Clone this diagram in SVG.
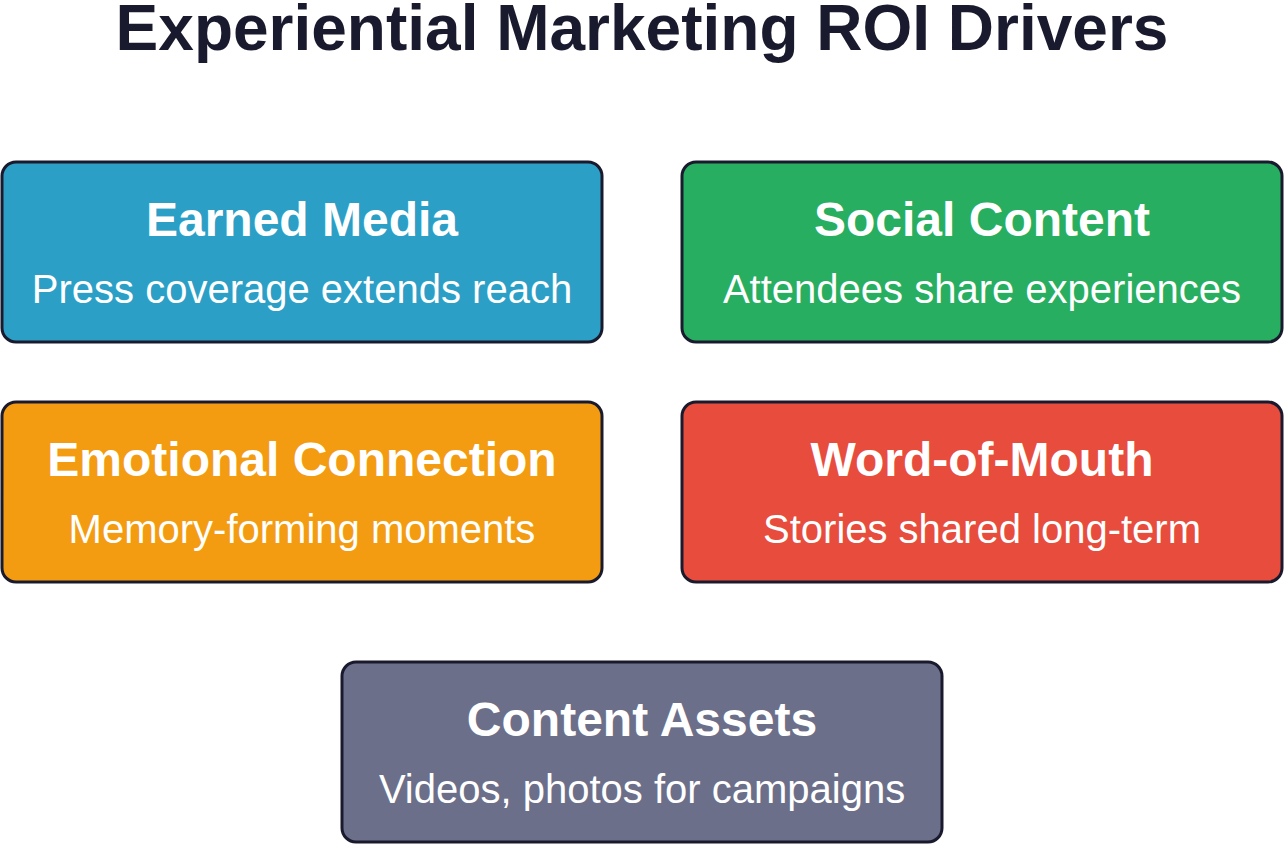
<svg xmlns="http://www.w3.org/2000/svg" width="1284" height="844" viewBox="0 0 1284 844">
<style>
.box{stroke:#1a1a2e;stroke-width:3}
.t{font-family:"Liberation Sans",Arial,sans-serif;font-weight:bold;font-size:48px;fill:#ffffff;text-anchor:middle}
.s{font-family:"Liberation Sans",Arial,sans-serif;font-size:40px;fill:#ffffff;text-anchor:middle}
.h{font-family:"Liberation Sans",Arial,sans-serif;font-weight:bold;font-size:64px;fill:#1a1a2e;text-anchor:middle}
</style>
<rect width="1284" height="844" fill="#ffffff"/>
<text class="h" x="642" y="50">Experiential Marketing ROI Drivers</text>
<g id="connectors"></g>
<g id="earned-media">
<rect class="box" x="2" y="162" width="600" height="180" rx="14" fill="#2b9fc6"/>
<text class="t" x="302" y="236">Earned Media</text>
<text class="s" x="302" y="303">Press coverage extends reach</text>
</g>
<g id="social-content">
<rect class="box" x="682" y="162" width="600" height="180" rx="14" fill="#27ae60"/>
<text class="t" x="982" y="236">Social Content</text>
<text class="s" x="982" y="303">Attendees share experiences</text>
</g>
<g id="emotional-connection">
<rect class="box" x="2" y="402" width="600" height="180" rx="14" fill="#f39c12"/>
<text class="t" x="302" y="476">Emotional Connection</text>
<text class="s" x="302" y="543">Memory-forming moments</text>
</g>
<g id="word-of-mouth">
<rect class="box" x="682" y="402" width="600" height="180" rx="14" fill="#e74c3c"/>
<text class="t" x="982" y="476">Word-of-Mouth</text>
<text class="s" x="982" y="543">Stories shared long-term</text>
</g>
<g id="content-assets">
<rect class="box" x="342" y="662" width="600" height="180" rx="14" fill="#6c6f89"/>
<text class="t" x="642" y="736">Content Assets</text>
<text class="s" x="642" y="803">Videos, photos for campaigns</text>
</g>
</svg>
